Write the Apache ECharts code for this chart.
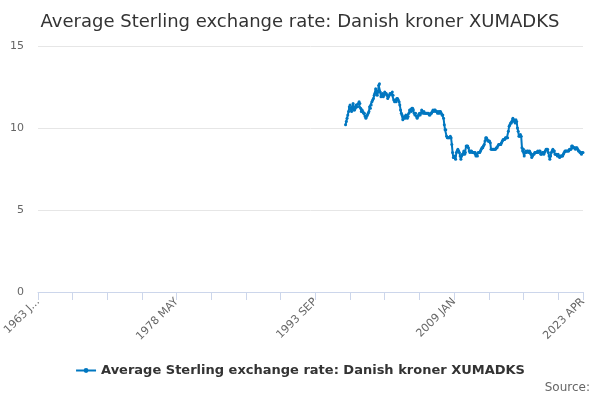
<!DOCTYPE html>
<html><head><meta charset="utf-8">
<script src="https://cdn.jsdelivr.net/npm/echarts@6/dist/echarts.min.js"></script>
<style>html,body{margin:0;padding:0}#c{width:600px;height:400px}</style>
</head><body><div id="c"></div>
<script>
const startYear = 1963;
const monthNames = ['JAN','FEB','MAR','APR','MAY','JUN','JUL','AUG','SEP','OCT','NOV','DEC'];
const dataStartYear = 1997;
const values = [
10.2,10.4,10.6,10.8,11.0,11.3,11.4,11.2,11.0,11.3,11.5,11.1,
11.1,11.2,11.4,11.3,11.3,11.5,11.6,11.5,11.2,11.0,11.1,11.0,
10.9,10.9,10.7,10.6,10.7,10.8,10.9,11.0,11.3,11.2,11.4,11.6,
11.7,11.8,12.0,12.1,12.4,12.2,12.0,12.2,12.6,12.7,12.2,11.9,
12.0,12.1,11.9,12.0,12.2,12.1,12.1,12.0,11.8,11.9,12.0,12.1,
12.1,12.1,12.2,12.0,11.7,11.6,11.7,11.6,11.8,11.8,11.7,11.6,
11.4,11.1,10.9,10.8,10.5,10.6,10.7,10.6,10.8,10.7,10.6,10.7,
10.9,11.1,11.1,11.0,11.2,11.2,11.1,10.9,10.8,10.9,10.7,10.6,
10.7,10.8,10.9,10.8,10.9,11.1,11.0,10.9,11.0,10.9,10.9,10.9,
10.9,10.9,10.9,10.8,10.8,10.9,10.9,11.0,11.1,11.0,11.1,11.1,
11.0,11.0,10.9,11.0,10.9,11.0,11.0,10.9,10.8,10.8,10.6,10.2,
9.9,9.9,9.5,9.4,9.4,9.4,9.4,9.5,9.4,9.0,8.5,8.2,
8.2,8.3,8.1,8.5,8.6,8.7,8.6,8.5,8.3,8.1,8.3,8.4,
8.4,8.6,8.4,8.5,8.9,8.9,8.9,8.8,8.6,8.5,8.6,8.6,
8.5,8.5,8.5,8.5,8.5,8.3,8.4,8.3,8.5,8.5,8.5,8.6,
8.7,8.8,8.8,8.9,9.0,9.2,9.4,9.4,9.3,9.2,9.2,9.2,
9.1,8.7,8.7,8.7,8.7,8.7,8.7,8.7,8.8,8.8,8.9,9.0,
9.0,9.0,9.0,9.1,9.2,9.3,9.3,9.3,9.4,9.4,9.4,9.4,
9.8,10.1,10.2,10.3,10.3,10.4,10.6,10.5,10.4,10.3,10.5,10.4,
10.0,9.8,9.5,9.5,9.6,9.5,8.8,8.6,8.7,8.3,8.5,8.6,
8.5,8.6,8.6,8.5,8.6,8.5,8.4,8.2,8.3,8.4,8.4,8.5,
8.5,8.5,8.5,8.6,8.5,8.6,8.6,8.4,8.4,8.5,8.5,8.4,
8.5,8.6,8.7,8.7,8.7,8.5,8.3,8.1,8.3,8.5,8.6,8.7,
8.6,8.6,8.4,8.4,8.4,8.3,8.4,8.3,8.2,8.3,8.3,8.3,
8.3,8.4,8.5,8.6,8.6,8.6,8.6,8.6,8.6,8.7,8.7,8.7,
8.9,8.9,8.8,8.8,8.8,8.7,8.8,8.8,8.7,8.6,8.6,8.5,
8.5,8.4,8.5,8.5
];
const categories = [];
for (let y = startYear; y <= 2023; y++) for (let m = 0; m < 12; m++) {
  if (y === 2023 && m > 3) break;
  categories.push(y + ' ' + monthNames[m]);
}
const offset = (dataStartYear - startYear) * 12;
const seriesData = categories.map((c, i) => i < offset ? null : values[i - offset]);
const name = 'Average Sterling exchange rate: Danish kroner XUMADKS';
const chart = echarts.init(document.getElementById('c'));
chart.setOption({
  animation: false,
  title: { text: name, left: 'center', top: 8, textStyle: { fontSize: 18, fontWeight: 'normal', color: '#333', fontFamily: 'DejaVu Sans' } },
  grid: { left: 38, right: 17, top: 46, bottom: 108 },
  xAxis: {
    type: 'category', data: categories, boundaryGap: false,
    axisLine: { lineStyle: { color: '#ccd6eb' } },
    axisTick: { interval: 45, length: 8, lineStyle: { color: '#ccd6eb' } },
    axisLabel: { interval: 183, rotate: 45, color: '#666', fontSize: 11, fontFamily: 'DejaVu Sans',
      formatter: v => v === '1963 JAN' ? '1963 J...' : v, showMaxLabel: true }
  },
  yAxis: {
    type: 'value', min: 0, max: 15, interval: 5,
    axisLabel: { color: '#666', fontSize: 11, fontFamily: 'DejaVu Sans', margin: 14 },
    splitLine: { lineStyle: { color: '#e6e6e6' } }
  },
  legend: { bottom: 18, left: 'center', itemWidth: 20, itemHeight: 6,
    textStyle: { fontWeight: 'bold', fontSize: 13, color: '#333', fontFamily: 'DejaVu Sans' } },
  graphic: [{ type: 'text', right: 10, bottom: 6, style: { text: 'Source:', fill: '#666', fontSize: 12, fontFamily: 'DejaVu Sans' } }],
  series: [{ name: name, type: 'line', data: seriesData, connectNulls: false,
    symbol: 'circle', symbolSize: 3, showAllSymbol: true,
    lineStyle: { color: '#0077c0', width: 2 }, itemStyle: { color: '#0077c0' } }]
});
</script></body></html>
